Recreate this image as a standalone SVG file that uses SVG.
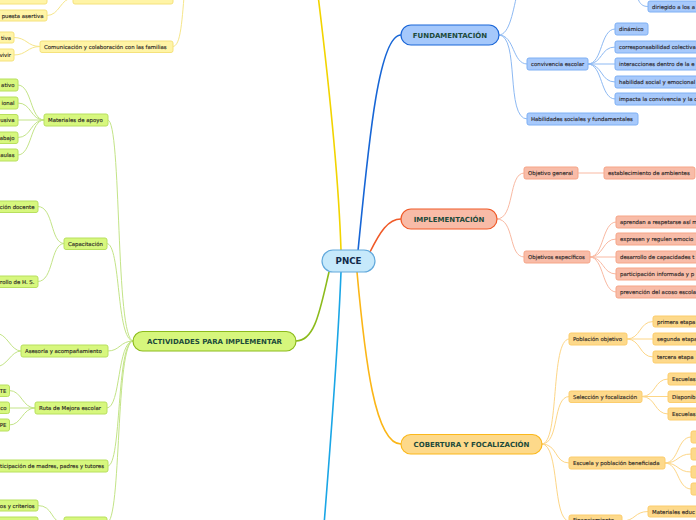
<svg xmlns="http://www.w3.org/2000/svg" width="696" height="520" viewBox="0 0 696 520">
<style>
.bg{fill:#ffffff}
.cn{fill:none;stroke-linecap:round}
.m-y{stroke:#f2d400;stroke-width:1.6}
.m-b{stroke:#1766d6;stroke-width:1.6}
.m-r{stroke:#f05a28;stroke-width:1.6}
.m-o{stroke:#fbb617;stroke-width:1.6}
.m-g{stroke:#8cbb1c;stroke-width:1.6}
.m-c{stroke:#1aa6e6;stroke-width:1.6}
.s-y{stroke:#f6e68a;stroke-width:1}
.s-b{stroke:#8db9f3;stroke-width:1}
.s-r{stroke:#f9b9a2;stroke-width:1}
.s-o{stroke:#fdd687;stroke-width:1}
.s-g{stroke:#c3e487;stroke-width:1}
.main{font-family:"DejaVu Sans",Verdana,sans-serif;font-weight:bold;font-size:7px;fill:#1c4a3a;text-anchor:middle}
.root{font-family:"DejaVu Sans",Verdana,sans-serif;font-weight:bold;font-size:8.7px;fill:#0f2a4a;text-anchor:middle}
.t{font-family:"DejaVu Sans",Verdana,sans-serif;font-size:5.4px;fill:#26221f;stroke:#26221f;stroke-width:0.12}
.te{font-family:"DejaVu Sans",Verdana,sans-serif;font-size:5.4px;fill:#26221f;stroke:#26221f;stroke-width:0.12;text-anchor:end}
.n-y{fill:#fff4a6;stroke:#f5e27c;stroke-width:1}
.n-b{fill:#a7c9fb;stroke:#7eb0f4;stroke-width:1}
.n-r{fill:#f8bca8;stroke:#f6a587;stroke-width:1}
.n-o{fill:#fdd98b;stroke:#fccd6c;stroke-width:1}
.n-g{fill:#d7f77e;stroke:#b8e05e;stroke-width:1}
</style>
<rect class="bg" x="0" y="0" width="696" height="520"/>
<g id="connectors">
  <path class="cn m-y" d="M341 250 C 338 160, 326 60, 318 -5"/>
  <path class="cn m-b" d="M358 251 C 368 150, 378 35, 401 35"/>
  <path class="cn m-r" d="M370 252 C 380 232, 388 219, 401 219"/>
  <path class="cn m-o" d="M357 272 C 365 360, 375 444, 401 444"/>
  <path class="cn m-g" d="M329 272 C 320 310, 315 341, 296 341"/>
  <path class="cn m-c" d="M341 272 C 338 350, 330 450, 324 525"/>
  <path class="cn s-b" d="M499 35 C 510 35, 513 10, 518 -10"/>
  <path class="cn s-b" d="M499 35 C 515 35, 512 64, 527 64"/>
  <path class="cn s-b" d="M499 35 C 520 35, 505 119, 527 119"/>
  <path class="cn s-b" d="M588 64 C 603 64, 600 29, 615 29"/>
  <path class="cn s-b" d="M588 64 C 603 64, 600 47, 615 47"/>
  <path class="cn s-b" d="M588 64 L 615 64"/>
  <path class="cn s-b" d="M588 64 C 603 64, 600 82, 615 82"/>
  <path class="cn s-b" d="M588 64 C 603 64, 600 99, 615 99"/>
  <path class="cn s-b" d="M636 -10 C 638 4, 642 6.5, 648 6.5"/>
  <path class="cn s-r" d="M497 219 C 515 219, 508 173, 524 173"/>
  <path class="cn s-r" d="M497 219 C 515 219, 508 257, 524 257"/>
  <path class="cn s-r" d="M578 173 L 604 173"/>
  <path class="cn s-r" d="M590 257 C 604 257, 602 222, 616 222"/>
  <path class="cn s-r" d="M590 257 C 604 257, 602 239, 616 239"/>
  <path class="cn s-r" d="M590 257 L 616 257"/>
  <path class="cn s-r" d="M590 257 C 604 257, 602 274, 616 274"/>
  <path class="cn s-r" d="M590 257 C 604 257, 602 292, 616 292"/>
  <path class="cn s-o" d="M542 444 C 560 444, 550 339, 569 339"/>
  <path class="cn s-o" d="M542 444 C 560 444, 552 396.5, 569 396.5"/>
  <path class="cn s-o" d="M542 444 C 558 444, 554 463, 569 463"/>
  <path class="cn s-o" d="M542 444 C 560 444, 552 521, 569 521"/>
  <path class="cn s-o" d="M627 339 C 641 339, 639 321.5, 653 321.5"/>
  <path class="cn s-o" d="M627 339 L 653 339"/>
  <path class="cn s-o" d="M627 339 C 641 339, 639 357, 653 357"/>
  <path class="cn s-o" d="M642 396.5 C 656 396.5, 654 379, 668 379"/>
  <path class="cn s-o" d="M642 396.5 L 668 396.5"/>
  <path class="cn s-o" d="M642 396.5 C 656 396.5, 654 414, 668 414"/>
  <path class="cn s-o" d="M665 463 C 679 463, 677 437, 691 437"/>
  <path class="cn s-o" d="M665 463 C 679 463, 677 454, 691 454"/>
  <path class="cn s-o" d="M665 463 C 679 463, 677 472, 691 472"/>
  <path class="cn s-o" d="M665 463 C 679 463, 677 489, 691 489"/>
  <path class="cn s-o" d="M622 521 C 636 521, 634 511.5, 648 511.5"/>
  <path class="cn s-g" d="M133 341 C 115 341, 122 120, 108 120"/>
  <path class="cn s-g" d="M133 341 C 116 341, 121 243.5, 107 243.5"/>
  <path class="cn s-g" d="M133 341 C 120 341, 120 351, 108 351"/>
  <path class="cn s-g" d="M133 341 C 117 341, 121 408, 107 408"/>
  <path class="cn s-g" d="M133 341 C 116 341, 122 466, 108 466"/>
  <path class="cn s-g" d="M133 341 C 115 341, 122 523, 107 523"/>
  <path class="cn s-g" d="M44 120 C 30 120, 32 85, 18 85"/>
  <path class="cn s-g" d="M44 120 C 30 120, 32 103, 18 103"/>
  <path class="cn s-g" d="M44 120 L 18 120"/>
  <path class="cn s-g" d="M44 120 C 30 120, 32 137.5, 18 137.5"/>
  <path class="cn s-g" d="M44 120 C 30 120, 32 155, 18 155"/>
  <path class="cn s-g" d="M64 243.5 C 50 243.5, 54 206.5, 38 206.5"/>
  <path class="cn s-g" d="M64 243.5 C 50 243.5, 54 281.5, 38 281.5"/>
  <path class="cn s-g" d="M21 351 C 10 351, 8 333, -5 333"/>
  <path class="cn s-g" d="M21 351 C 10 351, 8 367, -5 367"/>
  <path class="cn s-g" d="M35 408 C 22 408, 22 390.5, 9.5 390.5"/>
  <path class="cn s-g" d="M35 408 L 9.5 408"/>
  <path class="cn s-g" d="M35 408 C 22 408, 22 425, 9.5 425"/>
  <path class="cn s-g" d="M64 523 C 50 523, 54 505.5, 38 505.5"/>
  <path class="cn s-g" d="M64 523 L 38 523"/>
  <path class="cn s-y" d="M173 46.5 C 181 46.5, 182 20, 185 -15"/>
  <path class="cn s-y" d="M173 -2 C 178 -2, 180 -10, 183 -20"/>
  <path class="cn s-y" d="M40 46.5 C 27 46.5, 27 37.5, 14 37.5"/>
  <path class="cn s-y" d="M40 46.5 C 27 46.5, 27 55, 14 55"/>
  <path class="cn s-y" d="M73 -2 C 60 -2, 60 15.5, 47 15.5"/>
  <path class="cn s-y" d="M73 -2 L 47 -2"/>
</g>
<g id="pnce"><rect x="322" y="250" width="53" height="22" rx="11" fill="#c6e9fb" stroke="#62a9dc" stroke-width="1.2"/><text class="root" x="348.5" y="264.3">PNCE</text></g>
<g id="fundamentacion"><rect x="401" y="25" width="98" height="20" rx="10" fill="#a5c8fb" stroke="#1a66d8" stroke-width="1.2"/><text class="main" x="450" y="37.6">FUNDAMENTACIÓN</text></g>
<g id="implementacion"><rect x="401" y="209" width="96" height="20" rx="10" fill="#f8bba7" stroke="#f05a28" stroke-width="1.2"/><text class="main" x="449" y="221.6">IMPLEMENTACIÓN</text></g>
<g id="cobertura"><rect x="401" y="434.5" width="141" height="19.5" rx="9.75" fill="#fdd98a" stroke="#fbb81c" stroke-width="1.2"/><text class="main" x="471.5" y="446.8">COBERTURA Y FOCALIZACIÓN</text></g>
<g id="actividades"><rect x="133" y="331.5" width="163" height="19.5" rx="9.75" fill="#d6f67c" stroke="#8cbb1c" stroke-width="1.2"/><text class="main" x="214.5" y="343.8">ACTIVIDADES PARA IMPLEMENTAR</text></g>

<g id="convivencia"><rect class="n-b" x="527" y="58" width="61" height="12" rx="2"/><text class="t" x="531" y="66">convivencia escolar</text></g>
<g id="habilidades"><rect class="n-b" x="527" y="113" width="111" height="12" rx="2"/><text class="t" x="531" y="121">Habilidades sociales y fundamentales</text></g>
<g id="dinamico"><rect class="n-b" x="615" y="23" width="33" height="12" rx="2"/><text class="t" x="619" y="31">dinámico</text></g>
<g id="corresp"><rect class="n-b" x="615" y="41" width="110" height="12" rx="2"/><text class="t" x="619" y="49">corresponsabilidad colectiva</text></g>
<g id="interacciones"><rect class="n-b" x="615" y="58" width="110" height="12" rx="2"/><text class="t" x="619" y="66">interacciones dentro de la e</text></g>
<g id="habsocial"><rect class="n-b" x="615" y="76" width="110" height="12" rx="2"/><text class="t" x="619" y="84">habilidad social y emocional</text></g>
<g id="impacta"><rect class="n-b" x="615" y="93" width="110" height="12" rx="2"/><text class="t" x="619" y="101">impacta la convivencia y la c</text></g>
<g id="dirigido"><rect class="n-b" x="648" y="1" width="70" height="11" rx="2"/><text class="t" x="652" y="8.6">diriegido a los a</text></g>

<g id="objgeneral"><rect class="n-r" x="524" y="167" width="54" height="12" rx="2"/><text class="t" x="528" y="175">Objetivo general</text></g>
<g id="establecimiento"><rect class="n-r" x="604" y="167" width="91" height="12" rx="2"/><text class="t" x="608" y="175">establecimiento de ambientes</text></g>
<g id="objespecificos"><rect class="n-r" x="524" y="251" width="66" height="12" rx="2"/><text class="t" x="528" y="259">Objetivos específicos</text></g>
<g id="aprendan"><rect class="n-r" x="616" y="216" width="100" height="12" rx="2"/><text class="t" x="620" y="224">aprendan a respetarse así m</text></g>
<g id="expresen"><rect class="n-r" x="616" y="233" width="100" height="12" rx="2"/><text class="t" x="620" y="241">expresen y regulen emocio</text></g>
<g id="desarrollo"><rect class="n-r" x="616" y="251" width="100" height="12" rx="2"/><text class="t" x="620" y="259">desarrollo de capacidades t</text></g>
<g id="participacion"><rect class="n-r" x="616" y="268" width="100" height="12" rx="2"/><text class="t" x="620" y="276">participación informada y p</text></g>
<g id="prevencion"><rect class="n-r" x="616" y="286" width="100" height="12" rx="2"/><text class="t" x="620" y="294">prevención del acoso escola</text></g>

<g id="poblacion"><rect class="n-o" x="569" y="333" width="58" height="12" rx="2"/><text class="t" x="573" y="341">Población objetivo</text></g>
<g id="primera"><rect class="n-o" x="653" y="316" width="60" height="11" rx="2"/><text class="t" x="657" y="323.8">primera etapa</text></g>
<g id="segunda"><rect class="n-o" x="653" y="333" width="60" height="12" rx="2"/><text class="t" x="657" y="341">segunda etapa</text></g>
<g id="tercera"><rect class="n-o" x="653" y="351" width="60" height="12" rx="2"/><text class="t" x="657" y="359">tercera etapa</text></g>
<g id="seleccion"><rect class="n-o" x="569" y="391" width="73" height="11.5" rx="2"/><text class="t" x="573" y="398.8">Selección y focalización</text></g>
<g id="escuelas1"><rect class="n-o" x="668" y="373" width="40" height="12" rx="2"/><text class="t" x="672" y="381">Escuelas</text></g>
<g id="disponib"><rect class="n-o" x="668" y="391" width="40" height="11.5" rx="2"/><text class="t" x="672" y="398.8">Disponib</text></g>
<g id="escuelas2"><rect class="n-o" x="668" y="408" width="40" height="12" rx="2"/><text class="t" x="672" y="416">Escuelas</text></g>
<g id="escuelapob"><rect class="n-o" x="569" y="457" width="96" height="12" rx="2"/><text class="t" x="573" y="465">Escuela y población beneficiada</text></g>
<g id="ep1"><rect class="n-o" x="691" y="431" width="20" height="12" rx="2"/></g>
<g id="ep2"><rect class="n-o" x="691" y="448" width="20" height="12" rx="2"/></g>
<g id="ep3"><rect class="n-o" x="691" y="466" width="20" height="12" rx="2"/></g>
<g id="ep4"><rect class="n-o" x="691" y="483" width="20" height="12" rx="2"/></g>
<g id="financ"><rect class="n-o" x="569" y="515" width="53" height="12" rx="2"/><text class="t" x="573" y="522">Financiamiento</text></g>
<g id="materialesedu"><rect class="n-o" x="648" y="506" width="60" height="11" rx="2"/><text class="t" x="652" y="513.8">Materiales educ</text></g>

<g id="materiales"><rect class="n-g" x="44" y="114" width="64" height="12" rx="2"/><text class="t" x="48" y="122">Materiales de apoyo</text></g>
<g id="m1"><rect class="n-g" x="-30" y="79" width="48" height="12" rx="2"/><text class="te" x="14.5" y="87">ativo</text></g>
<g id="m2"><rect class="n-g" x="-30" y="97" width="48" height="12" rx="2"/><text class="te" x="14.5" y="105">ional</text></g>
<g id="m3"><rect class="n-g" x="-30" y="114.5" width="48" height="11.5" rx="2"/><text class="te" x="14.5" y="122.3">usiva</text></g>
<g id="m4"><rect class="n-g" x="-30" y="132" width="48" height="11.5" rx="2"/><text class="te" x="14.5" y="139.8">abajo</text></g>
<g id="m5"><rect class="n-g" x="-30" y="149" width="48" height="12" rx="2"/><text class="te" x="14.5" y="157">aulas</text></g>
<g id="capacitacion"><rect class="n-g" x="64" y="238" width="43" height="11.5" rx="2"/><text class="t" x="68" y="245.8">Capacitación</text></g>
<g id="cap1"><rect class="n-g" x="-40" y="201" width="78" height="11.5" rx="2"/><text class="te" x="34.5" y="208.8">ción docente</text></g>
<g id="cap2"><rect class="n-g" x="-40" y="276" width="78" height="11.5" rx="2"/><text class="te" x="34.5" y="283.8">rrollo de H. S.</text></g>
<g id="asesoria"><rect class="n-g" x="21" y="345" width="87" height="12" rx="2"/><text class="t" x="25" y="353">Asesoría y acompañamiento</text></g>
<g id="ruta"><rect class="n-g" x="35" y="402" width="72" height="12" rx="2"/><text class="t" x="39" y="410">Ruta de Mejora escolar</text></g>
<g id="r1"><rect class="n-g" x="-20" y="385" width="29.5" height="11.5" rx="2"/><text class="te" x="6.5" y="392.8">TE</text></g>
<g id="r2"><rect class="n-g" x="-20" y="402" width="29.5" height="11.5" rx="2"/><text class="te" x="6.5" y="409.8">co</text></g>
<g id="r3"><rect class="n-g" x="-20" y="419" width="29.5" height="12" rx="2"/><text class="te" x="6.5" y="427">PE</text></g>
<g id="madres"><rect class="n-g" x="-60" y="460" width="168" height="12" rx="2"/><text class="te" x="104" y="468">Participación de madres, padres y tutores</text></g>
<g id="criterios"><rect class="n-g" x="-40" y="500" width="78" height="11" rx="2"/><text class="te" x="34.5" y="507.8">os y criterios</text></g>
<g id="b2"><rect class="n-g" x="-40" y="517" width="78" height="12" rx="2"/></g>
<g id="bparent"><rect class="n-g" x="64" y="517" width="43" height="12" rx="2"/></g>

<g id="comunicacion"><rect class="n-y" x="40" y="41" width="133" height="11.5" rx="2"/><text class="t" x="44" y="48.8">Comunicación y colaboración con las familias</text></g>
<g id="y1"><rect class="n-y" x="-30" y="32" width="44" height="11" rx="2"/><text class="te" x="11" y="39.8">tiva</text></g>
<g id="y2"><rect class="n-y" x="-30" y="49" width="44" height="12" rx="2"/><text class="te" x="11" y="57">vivir</text></g>
<g id="asertiva"><rect class="n-y" x="-30" y="10" width="77" height="11" rx="2"/><text class="te" x="43.5" y="17.8">puesta asertiva</text></g>
<g id="y3"><rect class="n-y" x="-30" y="-8" width="77" height="12" rx="2"/></g>
<g id="ytop"><rect class="n-y" x="73" y="-8" width="100" height="12" rx="2"/></g>
</svg>
